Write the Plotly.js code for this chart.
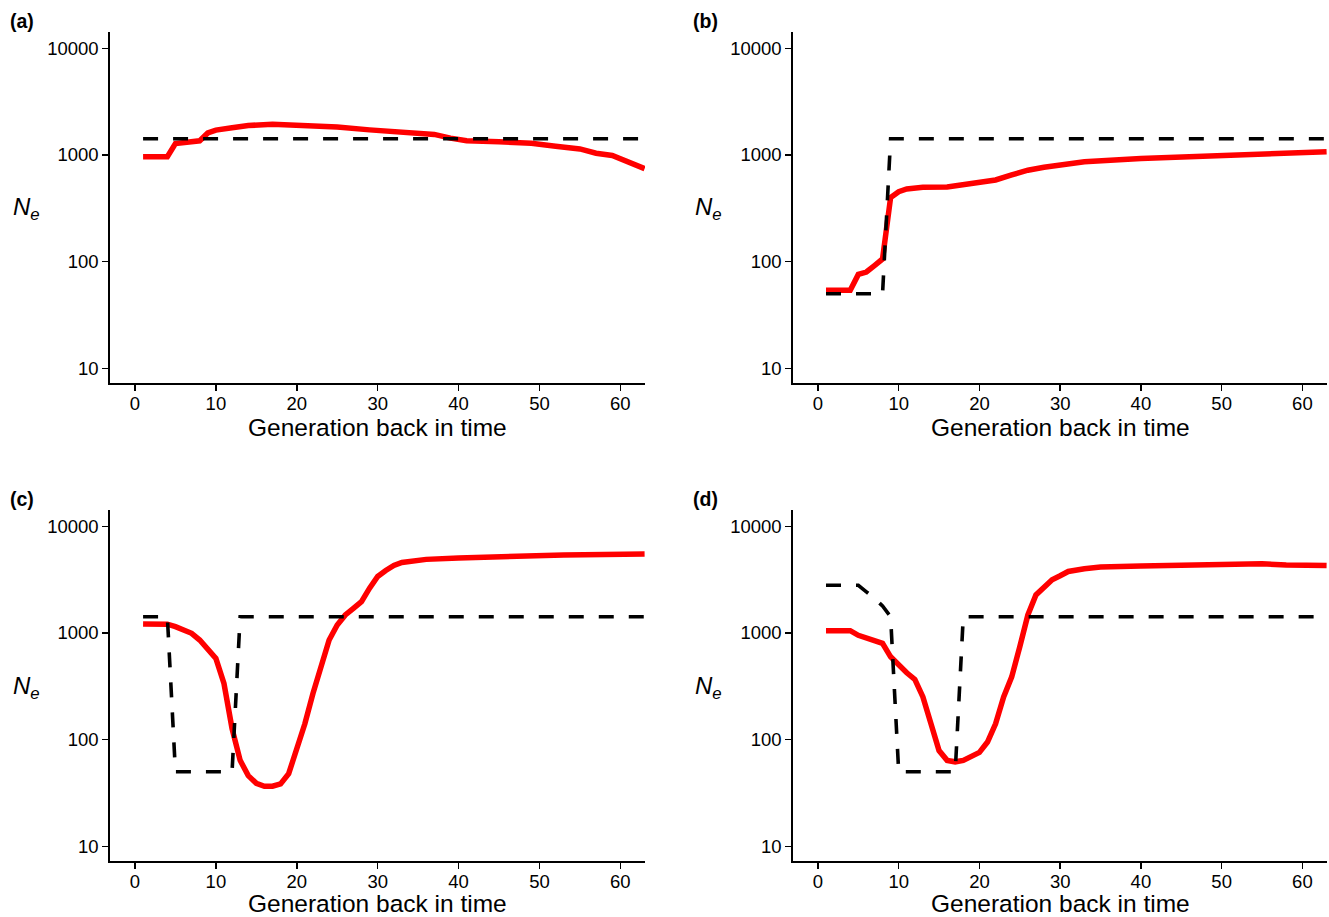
<!DOCTYPE html>
<html>
<head>
<meta charset="utf-8">
<script src="https://cdn.plot.ly/plotly-3.0.1.min.js"></script>
<style>
  html, body { margin: 0; padding: 0; background: #fff; }
  #chart { width: 1329px; height: 917px; }
</style>
</head>
<body>
<div id="chart"></div>
<script>
// ---------- Data ----------
// Panel (a)
const genA_est = [1,2,3,4,5,6,7,8,9,10,12,14,17,21,24,25,29,34,37,39,41,45,49,52,55,57,59,63];
const neA_est  = [965,965,965,965,1280,1310,1340,1360,1610,1710,1800,1890,1940,1910,1870,1830,1720,1630,1560,1440,1360,1330,1290,1210,1140,1040,990,745];
const genA_true = [1,63];
const neA_true  = [1420,1420];

// Panel (b)
const genB_est = [1,2,3,4,5,6,7,8,9,10,11,13,16,19,22,24,26,28,33,40,48,56,63];
const neB_est  = [54,54,54,54,76,80,92,106,400,453,480,498,501,540,583,650,720,768,866,925,980,1022,1074];
const genB_true = [1,8,9,63];
const neB_true  = [50,50,1420,1420];

// Panel (c)
const genC_est = [1,2,3,4,5,6,7,8,9,10,11,12,13,14,15,16,17,18,19,20,21,22,23,24,25,26,27,28,29,30,31,32,33,36,40,45,53,63];
const neC_est  = [1216,1216,1216,1210,1146,1083,993,859,718,578,336,127,64,46,39,36.6,36.6,38.5,48,79,141,271,466,859,1189,1476,1706,1968,2630,3388,3850,4300,4590,4900,5050,5230,5380,5500];
const genC_true = [1,4,5,12,13,63];
const neC_true  = [1420,1420,50,50,1420,1420];

// Panel (d)
const genD_est = [1,2,3,4,5,6,7,8,9,10,11,12,13,14,15,16,17,18,19,20,21,22,23,24,25,26,27,28,29,30,31,33,35,40,45,50,55,58,63];
const neD_est  = [1051,1051,1051,1051,951,891,847,800,598,500,424,367,252,141,79,64,62,64,69,76,95,141,252,388,743,1476,2276,2730,3157,3438,3775,4000,4150,4250,4300,4350,4450,4350,4300];
const genD_true = [1,5,6,7,8,9,10,17,18,63];
const neD_true  = [2800,2800,2430,2120,1790,1420,50,50,1420,1420];

const panelLabels = ["(a)","(b)","(c)","(d)"];
const xTickVals = [0,10,20,30,40,50,60];
const yTickVals = [10,100,1000,10000];
const yTickText = ["10","100","1000","10000"];
const xTitle = "Generation back in time";

// ---------- Styling ----------
const W = 1329, H = 917;
const FONT = "Liberation Sans, Arial, Helvetica, sans-serif";
const redLine = {color: "#FF0000", width: 5.5};
const dashLine = {color: "#000000", width: 3.6, dash: "15px,15px"};

const panels = [
  {gx: genA_est, gy: neA_est, tx: genA_true, ty: neA_true},
  {gx: genB_est, gy: neB_est, tx: genB_true, ty: neB_true},
  {gx: genC_est, gy: neC_est, tx: genC_true, ty: neC_true},
  {gx: genD_est, gy: neD_est, tx: genD_true, ty: neD_true}
];

// plot area pixel boxes [left, right, top, bottom]
const boxes = [
  [110, 645, 32, 383.3],
  [793, 1327, 32, 383.3],
  [110, 645, 510, 861.3],
  [793, 1327, 510, 861.3]
];

const data = [];
const layout = {
  width: W, height: H,
  margin: {l: 0, r: 0, t: 0, b: 0},
  paper_bgcolor: "#fff", plot_bgcolor: "#fff",
  showlegend: false,
  font: {family: FONT, color: "#000"},
  annotations: []
};

panels.forEach((p, i) => {
  const n = i + 1;
  const xa = "x" + (n === 1 ? "" : n), ya = "y" + (n === 1 ? "" : n);
  data.push({x: p.gx, y: p.gy, xaxis: xa, yaxis: ya, type: "scatter", mode: "lines",
             line: Object.assign({}, redLine), hoverinfo: "skip"});
  data.push({x: p.tx, y: p.ty, xaxis: xa, yaxis: ya, type: "scatter", mode: "lines",
             line: Object.assign({}, dashLine), hoverinfo: "skip"});
  const b = boxes[i];
  const axCommon = {
    showline: true, linecolor: "#000", linewidth: 1.7,
    ticks: "outside", ticklen: 6, tickwidth: 1.6, tickcolor: "#000",
    showgrid: false, zeroline: false,
    tickfont: {family: FONT, size: 18.5, color: "#000"}
  };
  layout["xaxis" + (n === 1 ? "" : n)] = Object.assign({}, axCommon, {
    domain: [b[0] / W, b[1] / W],
    anchor: ya,
    range: [-3.09, 63.05],
    tickmode: "array", tickvals: xTickVals,
    ticklabelstandoff: -3
  });
  layout["yaxis" + (n === 1 ? "" : n)] = Object.assign({}, axCommon, {
    domain: [(H - b[3]) / H, (H - b[2]) / H],
    anchor: xa,
    type: "log",
    range: [0.86, 4.153],
    tickmode: "array", tickvals: yTickVals, ticktext: yTickText
  });
  const cx = (b[0] + b[1]) / 2;
  // x-axis title
  const titleY = Math.min(b[3] + 44, H - 14);
  layout.annotations.push({
    xref: "paper", yref: "paper", x: cx / W, y: (H - titleY) / H,
    xanchor: "center", yanchor: "middle", showarrow: false,
    text: xTitle, font: {family: FONT, size: 24.5, color: "#000"}
  });
  // y-axis label N_e
  layout.annotations.push({
    xref: "paper", yref: "paper", x: (b[0] - 84) / W, y: (H - (b[2] + 177)) / H,
    xanchor: "center", yanchor: "middle", showarrow: false,
    text: "<i>N<sub>e</sub></i>", font: {family: FONT, size: 24, color: "#000"}
  });
  // panel label
  layout.annotations.push({
    xref: "paper", yref: "paper", x: (b[0] - 88) / W, y: (H - (b[2] - 11)) / H,
    xanchor: "center", yanchor: "middle", showarrow: false,
    text: "<b>" + panelLabels[i] + "</b>", font: {family: FONT, size: 19.5, color: "#000"}
  });
});

Plotly.newPlot("chart", data, layout, {staticPlot: true, displayModeBar: false});
</script>
</body>
</html>
